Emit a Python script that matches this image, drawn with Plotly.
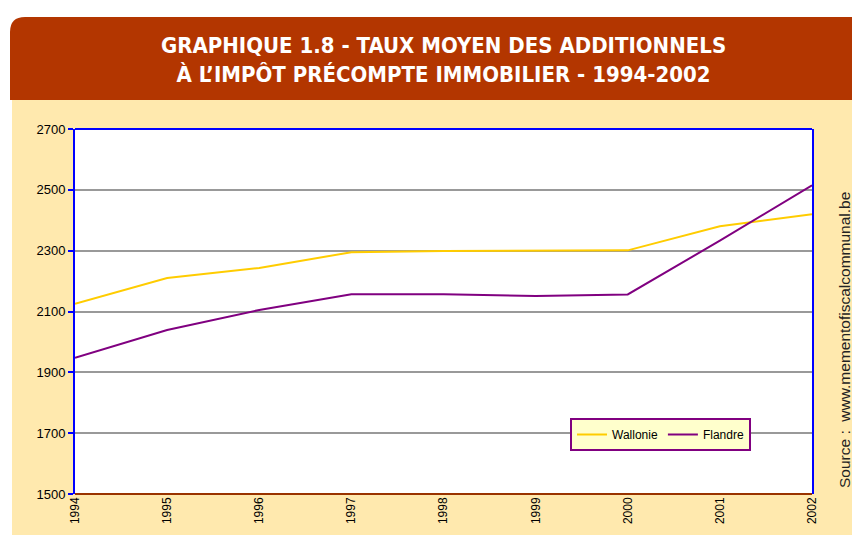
import plotly.graph_objects as go

years = ["1994", "1995", "1996", "1997", "1998", "1999", "2000", "2001", "2002"]
wallonie = [2125, 2210, 2243, 2295, 2299, 2300, 2301, 2380, 2420]
flandre = [1948, 2039, 2105, 2157, 2157, 2151, 2156, 2333, 2515]
y_ticks = [1500, 1700, 1900, 2100, 2300, 2500, 2700]

# page has an 8px body margin: the figure starts at (8, 8) in the window
OFF = 8
W, H = 860 - OFF, 535 - OFF
L, R, T, B = 75 - OFF, 812 - OFF, 129 - OFF, 494 - OFF

def px(x):
    return (x - OFF - L) / (R - L)

def py(y):
    return (B - (y - OFF)) / (B - T)

fig = go.Figure()
fig.add_trace(go.Scatter(x=years, y=wallonie, mode="lines", name="Wallonie",
                         line=dict(color="#FFCC00", width=2)))
fig.add_trace(go.Scatter(x=years, y=flandre, mode="lines", name="Flandre",
                         line=dict(color="#800080", width=2)))

shapes = [
    # beige page area
    dict(type="rect", xref="paper", yref="paper", x0=px(12), x1=px(870), y0=py(545), y1=py(100),
         fillcolor="#FFE9AE", line=dict(width=0), layer="below"),
    # white plot area
    dict(type="rect", xref="paper", yref="paper", x0=0, x1=1, y0=0, y1=1,
         fillcolor="white", line=dict(width=0), layer="below"),
    # title band with rounded top-left corner
    dict(type="path", xref="paper", yref="paper",
         path=f"M {px(10)},{py(100)} L {px(10)},{py(32)} Q {px(10)},{py(17)} {px(25)},{py(17)} "
              f"L {px(870)},{py(17)} L {px(870)},{py(100)} Z",
         fillcolor="#B33600", line=dict(width=0), layer="below"),
    # top border
    dict(type="line", xref="paper", yref="paper", x0=0, x1=1, y0=1, y1=1,
         line=dict(color="#0000FF", width=2)),
    # bottom axis line
    dict(type="line", xref="paper", yref="paper", x0=0, x1=1, y0=0, y1=0,
         line=dict(color="#993300", width=2)),
]

annotations = [
    dict(xref="paper", yref="paper", x=px(443), y=py(60), xanchor="center", yanchor="middle",
         text="<b>GRAPHIQUE 1.8 - TAUX MOYEN DES ADDITIONNELS<br>À L’IMPÔT PRÉCOMPTE IMMOBILIER - 1994-2002</b>",
         showarrow=False, align="center",
         font=dict(family="Liberation Sans Narrow, DejaVu Sans Condensed, Arial Narrow, sans-serif",
                   size=22, color="white")),
    dict(xref="paper", yref="paper", x=px(844), y=py(340), xanchor="center", yanchor="middle",
         text="Source :  www.mementofiscalcommunal.be", textangle=-90, showarrow=False,
         font=dict(family="Liberation Sans, Arial, sans-serif", size=15.5, color="#222222")),
]

fig.update_layout(
    width=W, height=H,
    margin=dict(l=L, r=W - R, t=T, b=H - B, pad=0),
    paper_bgcolor="white",
    plot_bgcolor="white",
    showlegend=True,
    legend=dict(orientation="h", x=px(570), y=py(418), xanchor="left", yanchor="top",
                bgcolor="#FFFFCC", bordercolor="#800080", borderwidth=2,
                font=dict(family="Liberation Sans, Arial, sans-serif", size=12, color="black"),
                itemwidth=30, tracegroupgap=0),
    shapes=shapes,
    annotations=annotations,
    xaxis=dict(type="category", range=[0, len(years) - 1], showgrid=False, zeroline=False,
               showline=False, ticks="", tickangle=-90,
               tickfont=dict(family="Liberation Sans, Arial, sans-serif", size=12, color="black")),
    yaxis=dict(range=[1500, 2700], tickvals=y_ticks, showgrid=True, gridcolor="#999999", gridwidth=1.5,
               zeroline=False, showline=True, linecolor="#0000FF", linewidth=2, mirror=True,
               ticks="outside", ticklen=5, tickcolor="#0000FF", tickwidth=2,
               tickfont=dict(family="Liberation Sans, Arial, sans-serif", size=13, color="black")),
)

fig.write_html("out.html")
